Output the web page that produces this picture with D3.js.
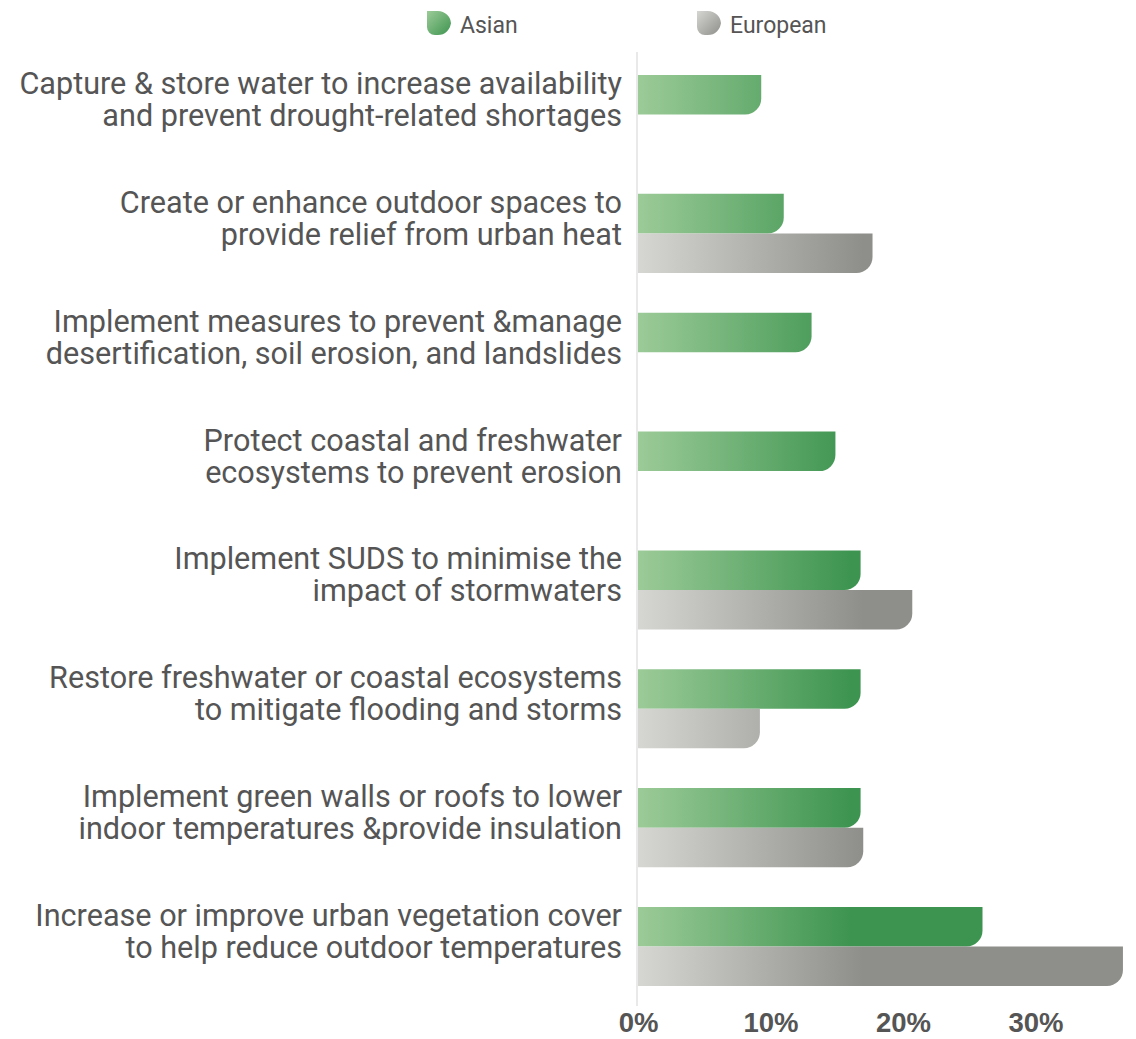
<!DOCTYPE html>
<html>
<head>
<meta charset="utf-8">
<script src="https://cdn.jsdelivr.net/npm/d3@7"></script>
<style>
  html, body { margin: 0; padding: 0; background: #fff; }
  svg { display: block; }
  .cat { font-family: "Roboto", sans-serif; font-size: 30.6px; fill: #555; }
  .legend text { font-family: "Roboto", sans-serif; font-size: 23px; fill: #555; }
  .xaxis text { font-family: "Liberation Sans", Arial, sans-serif; font-weight: bold; font-size: 27.5px; fill: #555; }
</style>
</head>
<body>
<svg id="chart" width="1136" height="1039"></svg>
<script>
// Adaptation measures, share of cities by region
const categories = [
  ["Capture & store water to increase availability", "and prevent drought-related shortages"],
  ["Create or enhance outdoor spaces to", "provide relief from urban heat"],
  ["Implement measures to prevent &manage", "desertification, soil erosion, and landslides"],
  ["Protect coastal and freshwater", "ecosystems to prevent erosion"],
  ["Implement SUDS to minimise the", "impact of stormwaters"],
  ["Restore freshwater or coastal ecosystems", "to mitigate flooding and storms"],
  ["Implement green walls or roofs to lower", "indoor temperatures &provide insulation"],
  ["Increase or improve urban vegetation cover", "to help reduce outdoor temperatures"]
];
const seriesNames = ["Asian", "European"];
const asianValues = [9.3, 11.0, 13.1, 14.9, 16.8, 16.8, 16.8, 26.0];
const europeanValues = [null, 17.7, null, null, 20.7, 9.2, 17.0, 36.6];
const xTicks = [0, 10, 20, 30];

const svg = d3.select("#chart");
const keys = categories.map((c, i) => "c" + i);

const x = d3.scaleLinear().domain([0, 10]).range([638, 770.5]);
const y = d3.scaleBand().domain(keys).range([55.1, 1005.9])
  .paddingInner(0.335).paddingOuter(0.1675);
const ySub = d3.scaleBand().domain(seriesNames).range([0, y.bandwidth()]);

// gradients run along the value axis, so longer bars reach the deeper tone
const defs = svg.append("defs");
const grads = {
  Asian: ["#9ccb98", "#3d9450", 16],
  European: ["#d6d6d2", "#8e8e8a", 17]
};
Object.entries(grads).forEach(([name, [c0, c1, end]]) => {
  const g = defs.append("linearGradient").attr("id", "g-" + name)
    .attr("gradientUnits", "userSpaceOnUse")
    .attr("x1", x(0)).attr("x2", x(end)).attr("y1", 0).attr("y2", 0);
  g.append("stop").attr("offset", 0).attr("stop-color", c0);
  g.append("stop").attr("offset", 1).attr("stop-color", c1);
  const gi = defs.append("linearGradient").attr("id", "gi-" + name)
    .attr("x1", 0).attr("x2", 1).attr("y1", 0).attr("y2", 1);
  gi.append("stop").attr("offset", 0).attr("stop-color", c0);
  gi.append("stop").attr("offset", 1).attr("stop-color", c1);
});

// bar with a rounded lower-right corner
function leafBar(x0, y0, w, h, r) {
  r = Math.min(r, w, h);
  return `M${x0},${y0}H${x0 + w}V${y0 + h - r}A${r},${r} 0 0 1 ${x0 + w - r},${y0 + h}H${x0}Z`;
}

// zero line
svg.append("line")
  .attr("x1", x(0) - 1).attr("x2", x(0) - 1)
  .attr("y1", 52).attr("y2", 1006)
  .attr("stroke", "#e2e2e2").attr("stroke-width", 1.5);

const rows = [];
keys.forEach((k, i) => {
  rows.push({ key: k, series: "Asian", value: asianValues[i] });
  if (europeanValues[i] != null) rows.push({ key: k, series: "European", value: europeanValues[i] });
});

svg.selectAll("path.bar").data(rows).join("path")
  .attr("class", "bar")
  .attr("d", d => leafBar(x(0), y(d.key) + ySub(d.series), x(d.value) - x(0), ySub.bandwidth(), 16))
  .attr("fill", d => `url(#g-${d.series})`);

// category labels
const labels = svg.selectAll("text.cat").data(keys).join("text")
  .attr("class", "cat")
  .attr("text-anchor", "end")
  .attr("transform", k => `translate(622,${y(k)})`);
labels.each(function (k, i) {
  const t = d3.select(this);
  t.append("tspan").attr("x", 0).attr("y", 19).text(categories[i][0]);
  t.append("tspan").attr("x", 0).attr("y", 51).text(categories[i][1]);
});

// x axis
const xAxis = d3.axisBottom(x).tickValues(xTicks).tickSize(0).tickPadding(0)
  .tickFormat(d => d + "%");
const ax = svg.append("g").attr("class", "xaxis").attr("transform", "translate(0,1032)").call(xAxis);
ax.select(".domain").remove();
ax.selectAll("text").attr("dy", null).attr("y", 0);

// legend
function leafIcon(s) {
  const r = s * 0.55;
  return `M0,0H${s - r}A${r},${r} 0 0 1 ${s},${r}V${s - r}A${r},${r} 0 0 1 ${s - r},${s}H${r * 0.6}A${r * 0.6},${r * 0.6} 0 0 1 0,${s - r * 0.6}Z`;
}
const legendX = { Asian: 427, European: 697 };
const lg = svg.append("g").attr("class", "legend").selectAll("g").data(seriesNames).join("g")
  .attr("transform", d => `translate(${legendX[d]},11)`);
lg.append("path").attr("d", leafIcon(24)).attr("fill", d => `url(#gi-${d})`);
lg.append("text").attr("x", 33).attr("y", 22).text(d => d);
</script>
</body>
</html>
